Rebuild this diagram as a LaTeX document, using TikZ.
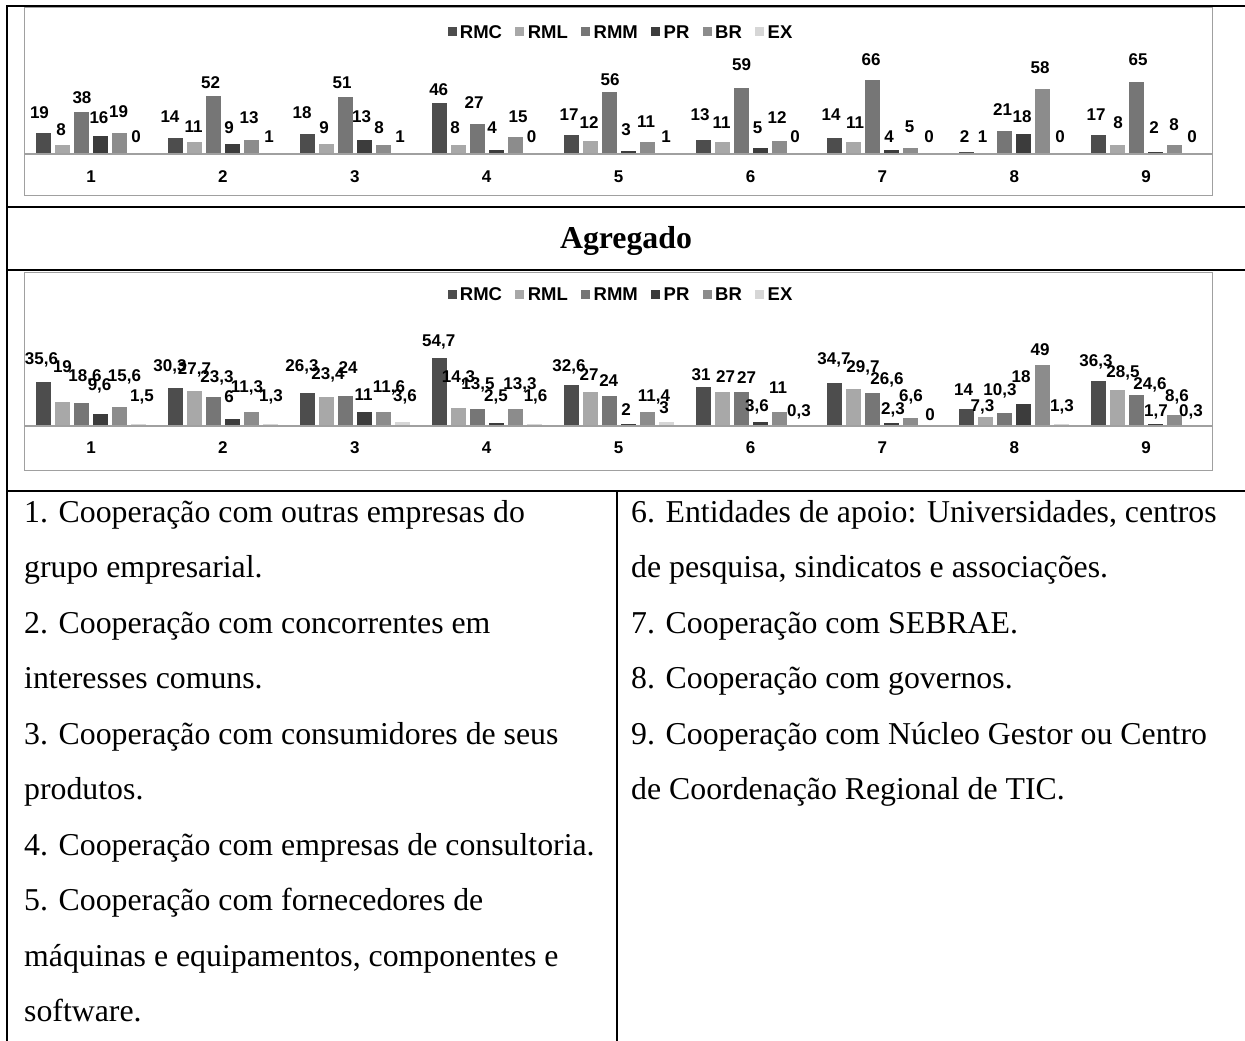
\documentclass[tikz,border=0pt]{standalone}
\usepackage{fontspec}
\setmainfont{Liberation Serif}
\newfontfamily\chartsans{Liberation Sans}
\usetikzlibrary{positioning}
\definecolor{bar1}{HTML}{4D4D4D}
\definecolor{bar2}{HTML}{A8A8A8}
\definecolor{bar3}{HTML}{767676}
\definecolor{bar4}{HTML}{3C3C3C}
\definecolor{bar5}{HTML}{8C8C8C}
\definecolor{bar6}{HTML}{D6D6D6}
\definecolor{framegray}{HTML}{A0A0A0}
\newcounter{labc}
\newcommand\dl[3]{\stepcounter{labc}\node[lab] (dl\thelabc) at (#1,#2) {#3};}
\newcommand\chartlegend[2]{%
  \node[sq, fill=bar1] (#1s1) at (452,#2) {};
  \node[legtxt, right=3pt of #1s1] (#1t1) {RMC};
  \node[sq, fill=bar2, right=13pt of #1t1] (#1s2) {};
  \node[legtxt, right=3pt of #1s2] (#1t2) {RML};
  \node[sq, fill=bar3, right=13pt of #1t2] (#1s3) {};
  \node[legtxt, right=3pt of #1s3] (#1t3) {RMM};
  \node[sq, fill=bar4, right=13pt of #1t3] (#1s4) {};
  \node[legtxt, right=3pt of #1s4] (#1t4) {PR};
  \node[sq, fill=bar5, right=13pt of #1t4] (#1s5) {};
  \node[legtxt, right=3pt of #1s5] (#1t5) {BR};
  \node[sq, fill=bar6, right=13pt of #1t5] (#1s6) {};
  \node[legtxt, right=3pt of #1s6] (#1t6) {EX};
}
\begin{document}
\begin{tikzpicture}[x=1pt,y=-1pt,
  rule/.style={line width=2.5pt, black},
  framebox/.style={draw=framegray, line width=1pt},
  axisline/.style={draw=framegray, line width=1.2pt},
  lab/.style={font=\chartsans\bfseries\fontsize{17}{17}\selectfont, inner sep=0pt},
  cat/.style={font=\chartsans\bfseries\fontsize{17}{17}\selectfont, inner sep=0pt},
  legtxt/.style={font=\chartsans\bfseries\fontsize{18.5}{18.5}\selectfont, inner sep=0pt},
  sq/.style={minimum size=9pt, inner sep=0pt, draw=none},
  body/.style={font=\fontsize{31.8}{31.8}\selectfont, inner sep=0pt, anchor=base west},
  title/.style={font=\bfseries\fontsize{31.8}{31.8}\selectfont, inner sep=0pt, anchor=base}]
\useasboundingbox (0,0) rectangle (1245,1041);
\fill[white] (0,0) rectangle (1245,1041);

% ---------- chart 1 ----------
\draw[framebox] (24,8) rectangle (1212,195);
\foreach \g/\vals in {1/{19,8,38,16,19,0},2/{14,11,52,9,13,1},3/{18,9,51,13,8,1},
  4/{46,8,27,4,15,0},5/{17,12,56,3,11,1},6/{13,11,59,5,12,0},7/{14,11,66,4,5,0},
  8/{2,1,21,18,58,0},9/{17,8,65,2,8,0}}{
  \foreach \v [count=\b] in \vals {
    \fill[bar\b] ({91+(\g-1)*131.9+(\b-3.5)*19-7.5},154) rectangle ++(15,{-\v*1.115});
  }
}
\draw[axisline] (24,154) -- (1212,154);
\chartlegend{la}{32}
\foreach \k in {1,...,9} \node[cat] (ca\k) at ({91+(\k-1)*131.9},177) {\k};
% labels chart 1
\dl{39.5}{113}{19}\dl{61}{130}{8}\dl{82}{98}{38}\dl{99}{118}{16}\dl{118.6}{112}{19}\dl{136}{137}{0}
\dl{170}{117}{14}\dl{193.7}{127}{11}\dl{210.7}{83}{52}\dl{229}{128}{9}\dl{249}{118}{13}\dl{269}{137}{1}
\dl{302}{113}{18}\dl{324}{128}{9}\dl{342}{83}{51}\dl{361.7}{117}{13}\dl{379}{128}{8}\dl{400}{137}{1}
\dl{438.7}{90}{46}\dl{455}{128}{8}\dl{474}{103}{27}\dl{492}{128}{4}\dl{518}{117}{15}\dl{531.6}{137}{0}
\dl{569}{115}{17}\dl{589}{123}{12}\dl{610}{80}{56}\dl{626}{130}{3}\dl{646}{122}{11}\dl{666}{137}{1}
\dl{700}{115}{13}\dl{721.6}{123}{11}\dl{741.5}{65}{59}\dl{757.5}{128}{5}\dl{777}{118}{12}\dl{795}{137}{0}
\dl{831}{115}{14}\dl{855}{123}{11}\dl{871}{60}{66}\dl{889}{137}{4}\dl{909.6}{127}{5}\dl{929}{137}{0}
\dl{964.6}{137}{2}\dl{982.6}{137}{1}\dl{1002.5}{110}{21}\dl{1022}{117}{18}\dl{1040}{68}{58}\dl{1060}{137}{0}
\dl{1096}{115}{17}\dl{1118}{123}{8}\dl{1138}{60}{65}\dl{1154}{128}{2}\dl{1174}{125}{8}\dl{1192}{137}{0}

% ---------- chart 2 ----------
\draw[framebox] (24,272) rectangle (1212,470);
\foreach \g/\vals in {1/{35.6,19,18.6,9.6,15.6,1.5},2/{30.3,27.7,23.3,6,11.3,1.3},
  3/{26.3,23.4,24,11,11.6,3.6},4/{54.7,14.3,13.5,2.5,13.3,1.6},5/{32.6,27,24,2,11.4,3},
  6/{31,27,27,3.6,11,0.3},7/{34.7,29.7,26.6,2.3,6.6,0},8/{14,7.3,10.3,18,49,1.3},
  9/{36.3,28.5,24.6,1.7,8.6,0.3}}{
  \foreach \v [count=\b] in \vals {
    \fill[bar\b] ({91+(\g-1)*131.9+(\b-3.5)*19-7.5},426) rectangle ++(15,{-\v*1.25});
  }
}
\draw[axisline] (24,426) -- (1212,426);
\chartlegend{lb}{294}
\foreach \k in {1,...,9} \node[cat] (cb\k) at ({91+(\k-1)*131.9},448) {\k};
% labels chart 2
\dl{41.5}{360}{35,6}\dl{62.5}{367}{19}\dl{85}{377}{18,6}\dl{99.6}{386}{9,6}\dl{124.5}{377}{15,6}\dl{142}{397}{1,5}
\dl{170}{367}{30,3}\dl{194.5}{370}{27,7}\dl{217}{378}{23,3}\dl{229}{397}{6}\dl{247}{388}{11,3}\dl{271}{397}{1,3}
\dl{302}{367}{26,3}\dl{328}{375}{23,4}\dl{348}{368}{24}\dl{363.6}{395}{11}\dl{389}{388}{11,6}\dl{405}{397}{3,6}
\dl{438.7}{342}{54,7}\dl{458.5}{378}{14,3}\dl{478}{385}{13,5}\dl{496}{397}{2,5}\dl{520}{385}{13,3}\dl{535.6}{397}{1,6}
\dl{569}{367}{32,6}\dl{589}{375}{27}\dl{608.7}{381}{24}\dl{626}{410}{2}\dl{654}{397}{11,4}\dl{664}{408}{3}
\dl{701}{375}{31}\dl{725.6}{377}{27}\dl{746.5}{378}{27}\dl{757}{407}{3,6}\dl{778}{388}{11}\dl{799}{412}{0,3}
\dl{834}{360}{34,7}\dl{863}{368}{29,7}\dl{887}{380}{26,6}\dl{893}{410}{2,3}\dl{911}{397}{6,6}\dl{930}{415}{0}
\dl{963.6}{390}{14}\dl{982.5}{407}{7,3}\dl{1000}{391}{10,3}\dl{1021}{377}{18}\dl{1040}{350}{49}\dl{1062}{407}{1,3}
\dl{1096}{362}{36,3}\dl{1123}{373}{28,5}\dl{1150}{385}{24,6}\dl{1156}{412}{1,7}\dl{1177}{397}{8,6}\dl{1191}{412}{0,3}

% ---------- table rules ----------
\draw[rule, line cap=rect] (7,1041) -- (7,6) -- (1245,6);
\draw[rule] (7,207) -- (1245,207);
\draw[rule] (7,270) -- (1245,270);
\draw[rule] (7,491) -- (1245,491);
\draw[rule] (617,491) -- (617,1041);

\node[title] (agg) at (626,248) {Agregado};

% ---------- description text ----------
\node[body] (a0) at (24,522) {1. Cooperação com outras empresas do};
\node[body] (a1) at (24,577.5) {grupo empresarial.};
\node[body] (a2) at (24,633) {2. Cooperação com concorrentes em};
\node[body] (a3) at (24,688.5) {interesses comuns.};
\node[body] (a4) at (24,744) {3. Cooperação com consumidores de seus};
\node[body] (a5) at (24,799.5) {produtos.};
\node[body] (a6) at (24,855) {4. Cooperação com empresas de consultoria.};
\node[body] (a7) at (24,910.5) {5. Cooperação com fornecedores de};
\node[body] (a8) at (24,966) {máquinas e equipamentos, componentes e};
\node[body] (a9) at (24,1021.5) {software.};
\node[body] (b0) at (631,522) {6. Entidades de apoio: Universidades, centros};
\node[body] (b1) at (631,577.5) {de pesquisa, sindicatos e associações.};
\node[body] (b2) at (631,633) {7. Cooperação com SEBRAE.};
\node[body] (b3) at (631,688.5) {8. Cooperação com governos.};
\node[body] (b4) at (631,744) {9. Cooperação com Núcleo Gestor ou Centro};
\node[body] (b5) at (631,799.5) {de Coordenação Regional de TIC.};
\end{tikzpicture}
\end{document}
